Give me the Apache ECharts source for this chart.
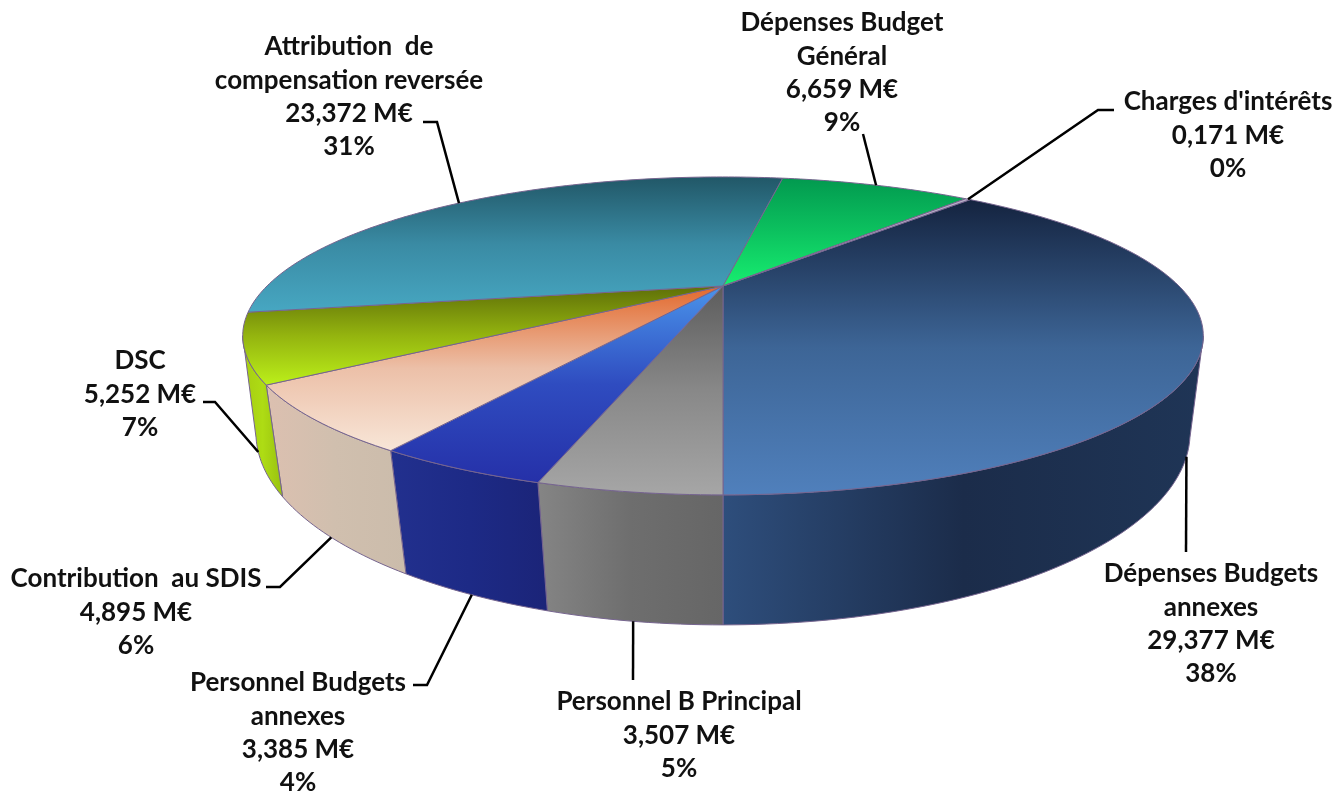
<!DOCTYPE html>
<html><head><meta charset="utf-8">
<style>html,body{margin:0;padding:0;background:#fff}#c{width:1338px;height:792px}</style>
<script src="https://cdn.jsdelivr.net/npm/echarts@6/dist/echarts.min.js"></script>
</head><body><div id="c"></div>
<script>
// ---- data, clockwise from the slice that ends at the front of the pie ----
const categories = ['Dépenses Budgets annexes','Personnel B Principal','Personnel Budgets annexes','Contribution au SDIS','DSC','Attribution de compensation reversée','Dépenses Budget Général',"Charges d'intérêts"];
const valuesText = ['29,377','3,507','3,385','4,895','5,252','23,372','6,659','0,171'];
const values = [29.377,3.507,3.385,4.895,5.252,23.372,6.659,0.171];
const percents = ['38%','5%','4%','6%','7%','31%','9%','0%'];
const nameLines = [['Dépenses Budgets','annexes'],['Personnel B Principal'],['Personnel Budgets','annexes'],['Contribution  au SDIS'],['DSC'],['Attribution  de','compensation reversée'],['Dépenses Budget','Général'],["Charges d'intérêts"]];

// ---- styles ----
const topColors = [['#14233f','#3d6596','#5080bc'],['#5c5c5c','#888888','#a6a6a6'],['#4a94ea','#2f4cc0','#2530a8'],['#e2682c','#ecc0a8','#f8e6d8'],['#5e6e08','#94b40f','#bcf01a'],['#215767','#3a8ba4','#47a7c2'],['#02994f','#0cc25f','#17ee70'],['#b8b0c8','#b8b0c8','#b8b0c8']];
const wallColors = [['#2e4e7c','#1b2c4a','#1f3556'],['#858585','#6e6e6e','#666666'],['#22308e','#1d2a86','#1b2478'],['#dcc0b0','#d0bfae','#cbbcab'],['#a6cc12','#aedc14','#98c010'],['#444','#444','#444'],['#444','#444','#444'],['#444','#444','#444']];
const edge = '#76658f';

// ---- projection of the disc (perspective) ----
const cx = 723, topP = {y0:286, S:143.3, R:456, k:0.314}, botP = {y0:377, S:176, R:447, k:0.29};
const total = values.reduce((a,b)=>a+b,0);
const startDeg = 180 - values[0]/total*360;
const rad = d => d*Math.PI/180;
function proj(P, deg){
  const u = Math.sin(rad(deg)), v = -Math.cos(rad(deg)), w = 1/(1-P.k*v);
  return [cx + P.R*u*w, P.y0 + P.S*v*w];
}
const spans = []; { let a = startDeg; values.forEach(v=>{const b=a+v/total*360; spans.push([a,b]); a=b;}); }
function arc(P,a,b){ const n=Math.max(2,Math.ceil(Math.abs(b-a)/1)); const o=[]; for(let i=0;i<=n;i++) o.push(proj(P,a+(b-a)*i/n)); return o; }
const visA = 108.3, visB = 251.7;

function grad(vertical, c){
  return new echarts.graphic.LinearGradient(0,0,vertical?0:1,vertical?1:0,[{offset:0,color:c[0]},{offset:.5,color:c[1]},{offset:1,color:c[2]}]);
}
function renderWall(params){
  const i=params.dataIndex, a=Math.max(spans[i][0],visA), b=Math.min(spans[i][1],visB);
  if(b<=a) return {type:'group',children:[]};
  const pts = arc(topP,a,b).concat(arc(botP,b,a));
  return {type:'polygon',shape:{points:pts},style:{fill:grad(false,wallColors[i]),stroke:edge,lineWidth:1}};
}
function renderTop(params){
  const i=params.dataIndex, pts=[[cx,topP.y0]].concat(arc(topP,spans[i][0],spans[i][1]));
  return {type:'polygon',shape:{points:pts},style:{fill:grad(true,topColors[i]),stroke:edge,lineWidth:1}};
}
// ---- label layout: text centre, first line centre, elbow points of the leader, anchor surface ----
const lineGap = 33.2;
const labelLayout = [
 {x:1211,y:574,elbow:[[1186,552]],on:'bot',shift:2.6},
 {x:679,y:702,elbow:[[633,680]],on:'bot'},
 {x:298,y:683,elbow:[[427,685],[413,685]],on:'bot'},
 {x:136,y:579,elbow:[[280,587],[266,587]],on:'bot'},
 {x:140,y:361,elbow:[[215,402],[203,402]],on:'bot'},
 {x:349,y:47,elbow:[[437,122],[423,122]],on:'top'},
 {x:842,y:23,elbow:[[863,134]],on:'top'},
 {x:1228,y:102,elbow:[[1098,110],[1114,110]],on:'top'}
];
function renderLabel(params){
  const i=params.dataIndex, L=labelLayout[i], mid=(spans[i][0]+spans[i][1])/2+(L.shift||0);
  const anchor=proj(L.on==='top'?topP:botP,mid);
  const lines=nameLines[i].concat([valuesText[i]+' M€',percents[i]]);
  const ch=[{type:'polyline',shape:{points:[anchor].concat(L.elbow)},style:{fill:'none',stroke:'#000',lineWidth:2.5},silent:true}];
  lines.forEach((t,j)=>ch.push({type:'text',style:{text:t,x:L.x,y:L.y+j*lineGap,align:'center',verticalAlign:'middle',font:'bold 26px Lato',fill:'#111'}}));
  return {type:'group',children:ch};
}
const data = values.map(v=>[v]);
const chart = echarts.init(document.getElementById('c'),null,{renderer:'canvas'});
chart.setOption({
  animation:false, backgroundColor:'#fff',
  series:[
    {type:'custom',coordinateSystem:'none',renderItem:renderWall,data:data,z:1,silent:true},
    {type:'custom',coordinateSystem:'none',renderItem:renderTop,data:data,z:2,silent:true},
    {type:'custom',coordinateSystem:'none',renderItem:renderLabel,data:data,z:3,silent:true}
  ]
});
</script></body></html>
